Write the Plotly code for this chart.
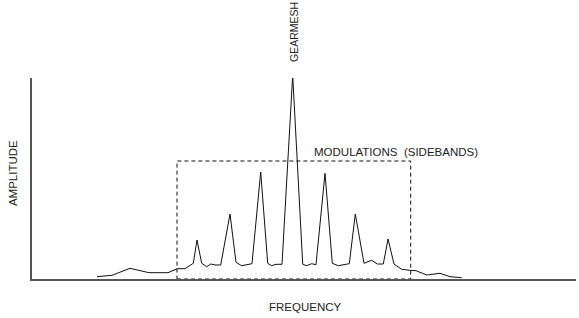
import plotly.graph_objects as go

# Frequency (arbitrary units) and amplitude (arbitrary units)
freq = [65, 80, 98, 117, 136, 138, 145.3, 153, 161.3, 165, 169.7, 174.7, 178.7, 183, 188.7,
        198, 204, 209.7, 215.3, 220, 228.7, 235.7, 239.7, 244, 250, 260.7, 270.7, 274.7,
        279.7, 284, 293, 300.3, 306.3, 311.3, 317.3, 323.3, 332, 339.7, 345.3, 351.3, 356,
        362, 369.7, 378, 384, 394.7, 408, 418, 429.7]
amp = [2.3, 3.7, 10.7, 6.3, 6.3, 7.3, 10.3, 10.3, 15.7, 39, 15.7, 12.3, 15, 14, 14,
       65, 16.7, 13.3, 14, 15.3, 107, 15.7, 13.3, 14.7, 14.7, 203.7, 14.7, 13.3, 15.3, 14.3,
       105.7, 15.7, 13.3, 14.3, 15.3, 65, 15.7, 18.7, 15, 15, 40, 15, 9.7, 8.7, 8.3,
       4, 5.7, 2.3, 1.3]

# Sideband box extent
box_x = [145, 378.7]
box_top = 118

font = dict(family="Liberation Sans", size=11.5, color="#222222")
font_small = dict(family="Liberation Sans", size=10.5, color="#222222")

fig = go.Figure()
fig.add_trace(go.Scatter(x=freq, y=amp, mode="lines", cliponaxis=False,
                         line=dict(color="#111111", width=1), hoverinfo="skip",
                         showlegend=False))

fig.add_shape(type="rect", xref="x", yref="y", x0=box_x[0], x1=box_x[1], y0=0, y1=box_top,
              line=dict(color="#111111", width=1, dash="4px,3px"))

fig.add_annotation(x=0.4816, y=1.0746, xref="paper", yref="paper", text="GEARMESH",
                   textangle=-90, showarrow=False, yanchor="bottom", xanchor="center",
                   borderpad=0, font=font_small)
fig.add_annotation(x=279.7, y=box_top, xref="x", yref="y", text="MODULATIONS  (SIDEBANDS)",
                   showarrow=False, xanchor="left", yanchor="bottom", yshift=1, font=font)
fig.add_annotation(x=-0.0313, y=0.527, xref="paper", yref="paper", text="AMPLITUDE",
                   textangle=-90, showarrow=False, xshift=-10, font=font)
fig.add_annotation(x=0.502, y=-0.138, xref="paper", yref="paper", text="FREQUENCY",
                   showarrow=False, yshift=-8, font=font)

fig.update_xaxes(range=[0, 544], showgrid=False, zeroline=False, showticklabels=False,
                 ticks="", showline=True, linecolor="#555555", linewidth=2)
fig.update_yaxes(range=[0, 201], showgrid=False, zeroline=False, showticklabels=False,
                 ticks="", showline=True, linecolor="#555555", linewidth=2)

fig.update_layout(width=579, height=318, margin=dict(l=32, r=3, t=78, b=39),
                  paper_bgcolor="white", plot_bgcolor="white")

fig.write_html("out.html")
